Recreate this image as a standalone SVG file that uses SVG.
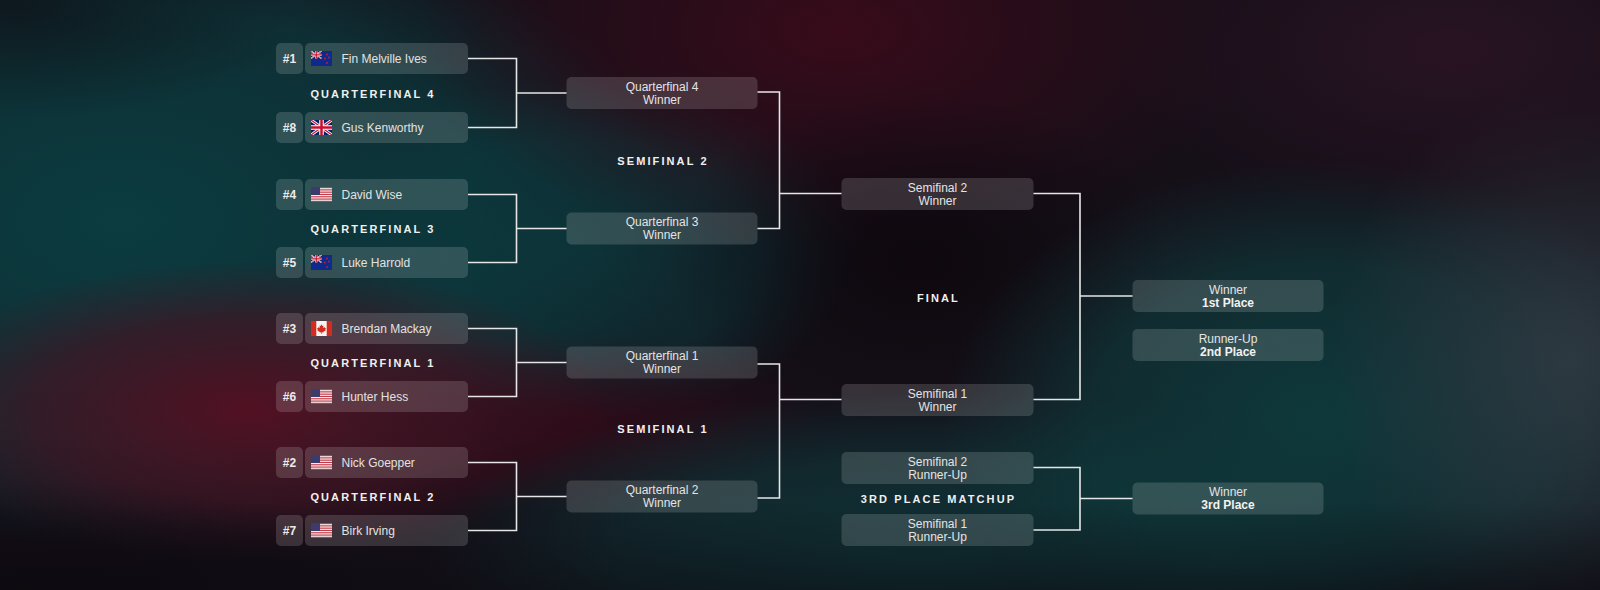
<svg xmlns="http://www.w3.org/2000/svg" xmlns:xlink="http://www.w3.org/1999/xlink" width="1600" height="590" viewBox="0 0 1600 590">
<defs>
<style>
.box{fill:#ffffff;fill-opacity:0.15}
.t{font-family:"Liberation Sans",Arial,sans-serif;font-size:12px;fill:#e4e4e4;text-anchor:middle}
.tb{font-weight:bold;fill:#f2f2f2}
.name{font-family:"Liberation Sans",Arial,sans-serif;font-size:12px;fill:#e2e2e2}
.seed{font-family:"Liberation Sans",Arial,sans-serif;font-size:12px;font-weight:bold;fill:#ececec;text-anchor:middle}
.lbl{font-family:"Liberation Sans",Arial,sans-serif;font-size:11px;font-weight:bold;fill:#f0f0f0;letter-spacing:2.1px;text-anchor:middle}
.con{fill:none;stroke:#e6e6e6;stroke-width:1.6}
</style>
<radialGradient id="gTeal"><stop offset="0" stop-color="#0b3c40" stop-opacity="1"/><stop offset="0.65" stop-color="#0b3a3e" stop-opacity="0.75"/><stop offset="1" stop-color="#0b3a3e" stop-opacity="0"/></radialGradient>
<radialGradient id="gRed"><stop offset="0" stop-color="#560f22" stop-opacity="0.95"/><stop offset="0.6" stop-color="#4a0f1f" stop-opacity="0.6"/><stop offset="1" stop-color="#4a0f1f" stop-opacity="0"/></radialGradient>
<radialGradient id="gCrim"><stop offset="0" stop-color="#3e0a1a" stop-opacity="0.85"/><stop offset="1" stop-color="#3e0a1a" stop-opacity="0"/></radialGradient>
<radialGradient id="gTeal2"><stop offset="0" stop-color="#0e3b3d" stop-opacity="0.95"/><stop offset="0.6" stop-color="#0e3b3d" stop-opacity="0.65"/><stop offset="1" stop-color="#0e3b3d" stop-opacity="0"/></radialGradient>
<radialGradient id="gGray"><stop offset="0" stop-color="#303b44" stop-opacity="0.9"/><stop offset="1" stop-color="#303b44" stop-opacity="0"/></radialGradient>
<radialGradient id="gPurp"><stop offset="0" stop-color="#2c1424" stop-opacity="0.85"/><stop offset="1" stop-color="#2c1424" stop-opacity="0"/></radialGradient>
<radialGradient id="gDark"><stop offset="0" stop-color="#0d070d" stop-opacity="0.9"/><stop offset="1" stop-color="#0d070d" stop-opacity="0"/></radialGradient>
<linearGradient id="gBottom" x1="0" y1="0" x2="0" y2="1"><stop offset="0.85" stop-color="#0b0a10" stop-opacity="0"/><stop offset="1" stop-color="#0b0a10" stop-opacity="0.5"/></linearGradient>
<clipPath id="fc"><rect width="21" height="15"/></clipPath>
<g id="ujack">
<rect width="21" height="15" fill="#012169"/>
<path d="M0,0L21,15M21,0L0,15" stroke="#ffffff" stroke-width="3"/>
<path d="M0,0L21,15M21,0L0,15" stroke="#c8102e" stroke-width="1.2"/>
<path d="M10.5,0V15M0,7.5H21" stroke="#ffffff" stroke-width="4.5"/>
<path d="M10.5,0V15M0,7.5H21" stroke="#c8102e" stroke-width="2.5"/>
</g>
<g id="flag-uk" clip-path="url(#fc)"><use xlink:href="#ujack"/></g>
<g id="flag-nz" clip-path="url(#fc)">
<rect width="21" height="15" fill="#0f2a8a"/>
<g transform="scale(0.5)"><use xlink:href="#ujack"/></g>
<circle cx="16" cy="3.5" r="0.9" fill="#d01c2c"/>
<circle cx="14" cy="7.5" r="0.9" fill="#d01c2c"/>
<circle cx="18" cy="6.5" r="0.9" fill="#d01c2c"/>
<circle cx="16" cy="12" r="0.9" fill="#d01c2c"/>
</g>
<g id="flag-us" clip-path="url(#fc)">
<rect width="21" height="15" fill="#f4f4f4"/>
<g fill="#c23a48">
<rect y="0" width="21" height="1.15"/><rect y="2.3" width="21" height="1.15"/><rect y="4.6" width="21" height="1.15"/><rect y="6.9" width="21" height="1.15"/><rect y="9.2" width="21" height="1.15"/><rect y="11.5" width="21" height="1.15"/><rect y="13.8" width="21" height="1.2"/>
</g>
<rect width="9" height="8" fill="#3c3b6e"/>
</g>
<g id="flag-ca" clip-path="url(#fc)">
<rect width="21" height="15" fill="#f4f4f4"/>
<rect width="5.3" height="15" fill="#d52b1e"/>
<rect x="15.7" width="5.3" height="15" fill="#d52b1e"/>
<path d="M10.5,3.2L11.4,5L12.5,4.5L12.1,7L13.6,6L14,7.2L15.1,7L14.3,8.8L14.8,9.2L12.2,10.9L12.5,11.6L10.8,11.3V13H10.2V11.3L8.5,11.6L8.8,10.9L6.2,9.2L6.7,8.8L5.9,7L7,7.2L7.4,6L8.9,7L8.5,4.5L9.6,5Z" fill="#d52b1e"/>
</g>
</defs>

<g id="background">
<rect width="1600" height="590" fill="#150f18"/>
<ellipse cx="120" cy="220" rx="560" ry="330" fill="url(#gTeal)"/>
<ellipse cx="580" cy="250" rx="280" ry="170" fill="url(#gTeal)" opacity="0.7"/>
<ellipse cx="250" cy="410" rx="360" ry="150" fill="url(#gRed)"/>
<ellipse cx="580" cy="420" rx="240" ry="90" fill="url(#gCrim)" opacity="0.7"/>
<ellipse cx="840" cy="30" rx="420" ry="220" fill="url(#gCrim)"/>
<ellipse cx="920" cy="260" rx="250" ry="170" fill="url(#gDark)"/>
<ellipse cx="920" cy="560" rx="500" ry="170" fill="url(#gTeal2)" opacity="0.85"/>
<ellipse cx="1320" cy="420" rx="380" ry="260" fill="url(#gTeal2)"/>
<ellipse cx="1570" cy="360" rx="240" ry="280" fill="url(#gGray)"/>
<ellipse cx="1450" cy="50" rx="340" ry="170" fill="url(#gPurp)"/>
<ellipse cx="20" cy="10" rx="280" ry="110" fill="url(#gDark)" opacity="0.6"/>
<ellipse cx="60" cy="590" rx="320" ry="110" fill="url(#gDark)" opacity="0.7"/>
<rect width="1600" height="590" fill="url(#gBottom)"/>
</g>

<g id="connectors">
<polyline class="con" points="468,58.5 516.5,58.5 516.5,127.5 468,127.5"/>
<line class="con" x1="516.5" y1="93" x2="566.5" y2="93"/>
<polyline class="con" points="468,194.5 516.5,194.5 516.5,262.5 468,262.5"/>
<line class="con" x1="516.5" y1="228.5" x2="566.5" y2="228.5"/>
<polyline class="con" points="468,328.5 516.5,328.5 516.5,396.5 468,396.5"/>
<line class="con" x1="516.5" y1="362.5" x2="566.5" y2="362.5"/>
<polyline class="con" points="468,462.5 516.5,462.5 516.5,530.5 468,530.5"/>
<line class="con" x1="516.5" y1="496.5" x2="566.5" y2="496.5"/>
<polyline class="con" points="757.5,92 779.5,92 779.5,228.5 757.5,228.5"/>
<line class="con" x1="779.5" y1="193.5" x2="841.5" y2="193.5"/>
<polyline class="con" points="757.5,364 779.5,364 779.5,498 757.5,498"/>
<line class="con" x1="779.5" y1="399.5" x2="841.5" y2="399.5"/>
<polyline class="con" points="1033.5,193.5 1080,193.5 1080,399.5 1033.5,399.5"/>
<line class="con" x1="1080" y1="296" x2="1132.5" y2="296"/>
<polyline class="con" points="1033.5,467.5 1080,467.5 1080,530 1033.5,530"/>
<line class="con" x1="1080" y1="498.5" x2="1132.5" y2="498.5"/>
</g>

<g id="labels">
<text class="lbl" x="373" y="97.5">QUARTERFINAL 4</text>
<text class="lbl" x="373" y="233">QUARTERFINAL 3</text>
<text class="lbl" x="373" y="366.5">QUARTERFINAL 1</text>
<text class="lbl" x="373" y="501">QUARTERFINAL 2</text>
<text class="lbl" x="663" y="165">SEMIFINAL 2</text>
<text class="lbl" x="663" y="432.5">SEMIFINAL 1</text>
<text class="lbl" x="938.5" y="301.5">FINAL</text>
<text class="lbl" x="938.5" y="502.5">3RD PLACE MATCHUP</text>
</g>

<g id="p1"><rect class="box" x="276" y="43" width="27" height="31" rx="5"/><rect class="box" x="305" y="43" width="163" height="31" rx="5"/><text class="seed" x="289.5" y="63">#1</text><use xlink:href="#flag-nz" x="311" y="51"/><text class="name" x="341.5" y="63">Fin Melville Ives</text></g>
<g id="p8"><rect class="box" x="276" y="112" width="27" height="31" rx="5"/><rect class="box" x="305" y="112" width="163" height="31" rx="5"/><text class="seed" x="289.5" y="132">#8</text><use xlink:href="#flag-uk" x="311" y="120"/><text class="name" x="341.5" y="132">Gus Kenworthy</text></g>
<g id="p4"><rect class="box" x="276" y="179" width="27" height="31" rx="5"/><rect class="box" x="305" y="179" width="163" height="31" rx="5"/><text class="seed" x="289.5" y="199">#4</text><use xlink:href="#flag-us" x="311" y="187"/><text class="name" x="341.5" y="199">David Wise</text></g>
<g id="p5"><rect class="box" x="276" y="247" width="27" height="31" rx="5"/><rect class="box" x="305" y="247" width="163" height="31" rx="5"/><text class="seed" x="289.5" y="267">#5</text><use xlink:href="#flag-nz" x="311" y="255"/><text class="name" x="341.5" y="267">Luke Harrold</text></g>
<g id="p3"><rect class="box" x="276" y="313" width="27" height="31" rx="5"/><rect class="box" x="305" y="313" width="163" height="31" rx="5"/><text class="seed" x="289.5" y="333">#3</text><use xlink:href="#flag-ca" x="311" y="321"/><text class="name" x="341.5" y="333">Brendan Mackay</text></g>
<g id="p6"><rect class="box" x="276" y="381" width="27" height="31" rx="5"/><rect class="box" x="305" y="381" width="163" height="31" rx="5"/><text class="seed" x="289.5" y="401">#6</text><use xlink:href="#flag-us" x="311" y="389"/><text class="name" x="341.5" y="401">Hunter Hess</text></g>
<g id="p2"><rect class="box" x="276" y="447" width="27" height="31" rx="5"/><rect class="box" x="305" y="447" width="163" height="31" rx="5"/><text class="seed" x="289.5" y="467">#2</text><use xlink:href="#flag-us" x="311" y="455"/><text class="name" x="341.5" y="467">Nick Goepper</text></g>
<g id="p7"><rect class="box" x="276" y="515" width="27" height="31" rx="5"/><rect class="box" x="305" y="515" width="163" height="31" rx="5"/><text class="seed" x="289.5" y="535">#7</text><use xlink:href="#flag-us" x="311" y="523"/><text class="name" x="341.5" y="535">Birk Irving</text></g>

<g id="qf4w"><rect class="box" x="566.5" y="77" width="191" height="32" rx="5"/><text class="t" x="662" y="90.5">Quarterfinal 4</text><text class="t" x="662" y="103.5">Winner</text></g>
<g id="qf3w"><rect class="box" x="566.5" y="212.5" width="191" height="32" rx="5"/><text class="t" x="662" y="226">Quarterfinal 3</text><text class="t" x="662" y="239">Winner</text></g>
<g id="qf1w"><rect class="box" x="566.5" y="346.5" width="191" height="32" rx="5"/><text class="t" x="662" y="360">Quarterfinal 1</text><text class="t" x="662" y="373">Winner</text></g>
<g id="qf2w"><rect class="box" x="566.5" y="480.5" width="191" height="32" rx="5"/><text class="t" x="662" y="494">Quarterfinal 2</text><text class="t" x="662" y="507">Winner</text></g>

<g id="sf2w"><rect class="box" x="841.5" y="178" width="192" height="32" rx="5"/><text class="t" x="937.5" y="191.5">Semifinal 2</text><text class="t" x="937.5" y="204.5">Winner</text></g>
<g id="sf1w"><rect class="box" x="841.5" y="384" width="192" height="32" rx="5"/><text class="t" x="937.5" y="397.5">Semifinal 1</text><text class="t" x="937.5" y="410.5">Winner</text></g>
<g id="sf2r"><rect class="box" x="841.5" y="452" width="192" height="32" rx="5"/><text class="t" x="937.5" y="465.5">Semifinal 2</text><text class="t" x="937.5" y="478.5">Runner-Up</text></g>
<g id="sf1r"><rect class="box" x="841.5" y="514" width="192" height="32" rx="5"/><text class="t" x="937.5" y="527.5">Semifinal 1</text><text class="t" x="937.5" y="540.5">Runner-Up</text></g>

<g id="first"><rect class="box" x="1132.5" y="280" width="191" height="32" rx="5"/><text class="t" x="1228" y="293.5">Winner</text><text class="t tb" x="1228" y="306.5">1st Place</text></g>
<g id="second"><rect class="box" x="1132.5" y="329" width="191" height="32" rx="5"/><text class="t" x="1228" y="342.5">Runner-Up</text><text class="t tb" x="1228" y="355.5">2nd Place</text></g>
<g id="third"><rect class="box" x="1132.5" y="482.5" width="191" height="32" rx="5"/><text class="t" x="1228" y="496">Winner</text><text class="t tb" x="1228" y="509">3rd Place</text></g>
</svg>
